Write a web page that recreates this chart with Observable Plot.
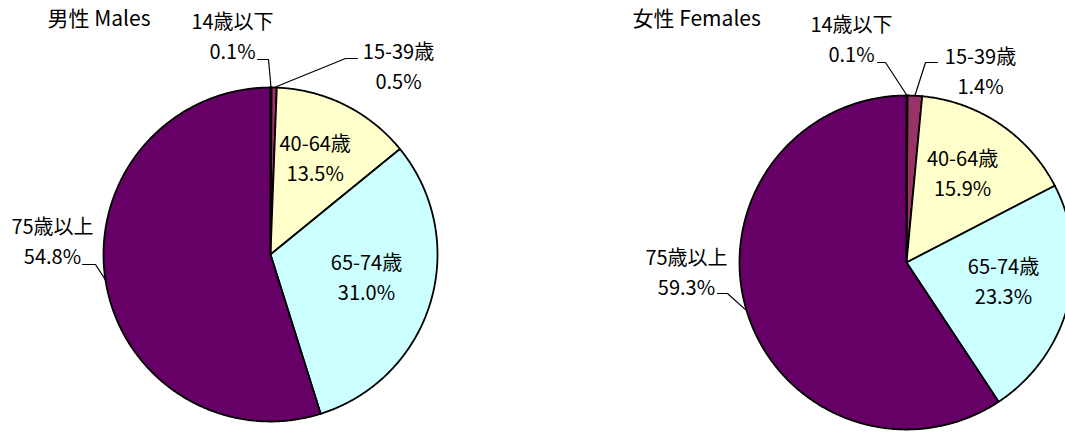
<!DOCTYPE html>
<html><head><meta charset="utf-8">
<script src="https://cdn.jsdelivr.net/npm/d3@7"></script>
<script src="https://cdn.jsdelivr.net/npm/@observablehq/plot@0.6"></script>
<style>html,body{margin:0;padding:0;background:#fff;overflow:hidden;}</style>
</head><body><div id="chart"></div>
<script>
// ---- data ----
const categories = ["14歳以下", "15-39歳", "40-64歳", "65-74歳", "75歳以上"];
const sliceColors = ["#9999FF", "#993366", "#FFFFCC", "#CCFFFF", "#660066"];
const pieTitles = ["男性 Males", "女性 Females"];
const malesPct = [0.1, 0.5, 13.5, 31.0, 54.8];
const femalesPct = [0.1, 1.4, 15.9, 23.3, 59.3];

// ---- layout (pixels) ----
const W = 1065, H = 433;
const FONT = "'Noto Sans CJK JP', 'Noto Sans', sans-serif";
const pies = [
  {values: malesPct, title: pieTitles[0], cx: 270, cy: 254, r: 167, titleX: 47, titleY: 19,
   outside: {
     0: {nx: -38, ny: -232, leader: [[-13, -195], [-2, -195]]},
     1: {nx: 128, ny: -202, leader: [[87, -196], [75, -196]]},
     4: {nx: -218, ny: -27, leader: [[-188, 10], [-175, 10]]}
   }},
  {values: femalesPct, title: pieTitles[1], cx: 906, cy: 262, r: 167, titleX: 632, titleY: 19,
   outside: {
     0: {nx: -55, ny: -237, leader: [[-29, -200], [-21, -200]]},
     1: {nx: 74, ny: -205, leader: [[31, -200], [19, -200]]},
     4: {nx: -220, ny: -4, leader: [[-189, 31], [-179, 31]]}
   }}
];
const LINE = 30;       // spacing between name and value lines
const INNER = 0.6;     // radial position of inside labels
const LIFT = 5;        // upward shift of inside labels

const polys = [], texts = [], leaders = [];
pies.forEach((p, pi) => {
  const total = d3.sum(p.values);
  let cum = 0;
  const pt = (a, rr) => [p.cx + rr * Math.sin(a), p.cy - rr * Math.cos(a)];
  p.values.forEach((v, i) => {
    const a0 = cum / total * 2 * Math.PI;
    cum += v;
    const a1 = cum / total * 2 * Math.PI;
    const key = pi + "-" + i;
    const n = Math.max(2, Math.ceil((a1 - a0) / (Math.PI / 360)));
    polys.push({key, x: p.cx, y: p.cy, c: sliceColors[i]});
    for (let k = 0; k <= n; k++) {
      const [x, y] = pt(a0 + (a1 - a0) * k / n, p.r);
      polys.push({key, x, y, c: sliceColors[i]});
    }
    const mid = (a0 + a1) / 2;
    const o = p.outside[i];
    let tx, ty;
    if (o) {
      tx = p.cx + o.nx; ty = p.cy + o.ny;
      const [ex, ey] = pt(mid, p.r);
      o.leader.forEach(([dx, dy]) => leaders.push({key, x: p.cx + dx, y: p.cy + dy}));
      leaders.push({key, x: ex, y: ey});
    } else {
      [tx, ty] = pt(mid, p.r * INNER);
      ty -= LINE / 2 + LIFT;
    }
    texts.push({x: tx, y: ty, t: categories[i]});
    texts.push({x: tx, y: ty + LINE, t: v.toFixed(1) + "%"});
  });
});
const titleRows = pies.map(p => ({x: p.titleX, y: p.titleY, t: p.title}));

const chart = Plot.plot({
  width: W, height: H,
  margin: 0,
  x: {domain: [0, W], range: [0, W], axis: null},
  y: {domain: [0, H], range: [0, H], axis: null},
  color: {type: "identity"},
  style: {background: "#fff", overflow: "visible"},
  marks: [
    Plot.line(polys, {x: "x", y: "y", z: "key", fill: "c", stroke: "#000", strokeWidth: 1.8, curve: "linear-closed", strokeLinejoin: "round"}),
    Plot.line(leaders, {x: "x", y: "y", z: "key", stroke: "#000", strokeWidth: 1.2}),
    Plot.text(texts, {x: "x", y: "y", text: "t", fontSize: 20, fontFamily: FONT, fill: "#000"}),
    Plot.text(titleRows, {x: "x", y: "y", text: "t", fontSize: 21, fontFamily: FONT, fill: "#000", textAnchor: "start"})
  ]
});
document.getElementById("chart").appendChild(chart);
</script>
</body></html>
